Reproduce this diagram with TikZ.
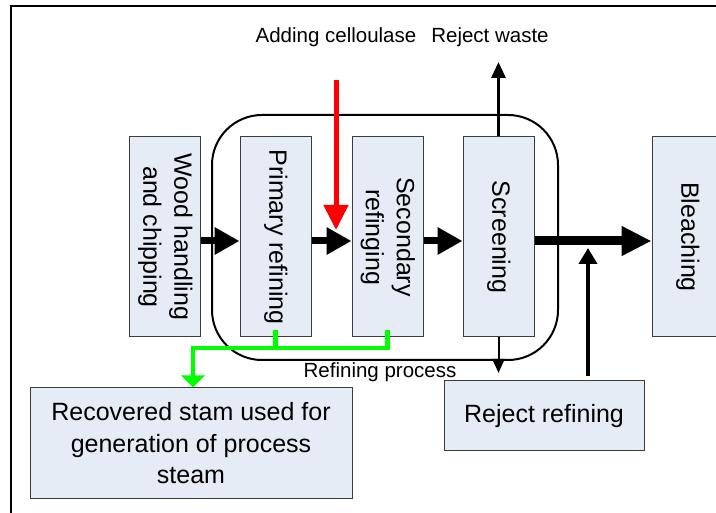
\documentclass[tikz,border=0pt]{standalone}
\usepackage{fontspec}
\setmainfont{Liberation Sans}
\usepackage{graphicx}
\usetikzlibrary{positioning,arrows.meta}
\definecolor{boxfill}{RGB}{230,236,246}
\definecolor{boxline}{RGB}{60,60,60}
\tikzset{
  flowarrow/.style={-{Triangle[length=25pt,width=26pt]}, line width=7pt},
  mainarrow/.style={-{Triangle[length=30pt,width=28pt]}, line width=9pt},
  thinarrow/.style={-{Triangle[length=14pt,width=12pt]}, line width=2pt},
  uparrow/.style={-{Triangle[length=16pt,width=18pt]}, line width=4pt},
  wastearrow/.style={-{Triangle[length=16pt,width=14pt]}, line width=3pt},
  enzarrow/.style={-{Triangle[length=25pt,width=24pt]}, red, line width=5pt},
  steamline/.style={-{Triangle[length=12pt,width=23pt]}, green, line width=4.5pt},
  procbox/.style={draw=boxline, fill=boxfill, line width=1pt, minimum width=71pt, minimum height=200pt, inner sep=0pt, align=center, font=\fontsize{25}{31}\selectfont},
  outbox/.style={draw=boxline, fill=boxfill, line width=1pt, inner sep=0pt, align=center, font=\fontsize{25}{31.5}\selectfont},
  smalltext/.style={font=\fontsize{20.5}{24}\selectfont, inner sep=0pt}
}
\newcommand{\vtext}[1]{\rotatebox{-90}{\begin{tabular}{@{}c@{}}#1\end{tabular}}}
\begin{document}
\begin{tikzpicture}[x=1pt, y=-1pt, >=Triangle]
      \useasboundingbox (0,0) rectangle (716,513);
      % frame
      \draw[line width=2.5pt] (11,530) -- (11,6) -- (730,6);
      % refining process
      \node[draw, line width=2pt, rounded corners=50pt, minimum width=346pt, minimum height=245pt] (refproc) at (385,237.5) {};
      \node[smalltext] (refname) at (380,372) {Refining process};
      \node[procbox] (wood) at (165,237) {\vtext{Wood handling\\and chipping}};
      \node[procbox] (prim) at (275.5,237) {\vtext{Primary refining}};
      \node[procbox] (sec) at (387.5,237) {\vtext{Secondary\\refinging}};
      \node[procbox] (scr) at (498.5,237) {\vtext{Screening}};
      \node[procbox] (bleach) at (687.5,237) {\vtext{Bleaching}};
      \node[outbox, minimum width=322pt, minimum height=111pt] (recov) at (191,443.5) {Recovered stam used for\\generation of process\\steam};
      \node[outbox, minimum width=200pt, minimum height=70pt] (rejref) at (544,416) {Reject refining};
      \node[smalltext] (cellu) at (336,37) {Adding celloulase};
      \node[smalltext] (waste) at (490,37) {Reject waste};
      \coordinate (enztop) at (336,80);
      \coordinate (enztip) at (336,230);
      \coordinate (wastetip) at (498.5,62);
      \coordinate (rejtip) at (498.5,373);
      \coordinate (uptip) at (588,248);
      \coordinate (gleft) at (193,348);
      % main line
      \draw[flowarrow] ([yshift=-4pt]wood.east) -- ([yshift=-4pt]prim.west);
      \draw[flowarrow] ([yshift=-4pt]prim.east) -- ([yshift=-4pt]sec.west);
      \draw[flowarrow] ([yshift=-4pt]sec.east) -- ([yshift=-4pt]scr.west);
      \draw[mainarrow] ([yshift=-4pt]scr.east) -- ([yshift=-4pt]bleach.west);
      \draw[enzarrow] (enztop) -- (enztip);
      \draw[wastearrow] (scr.north) -- (wastetip);
      \draw[thinarrow] (scr.south) -- (rejtip);
      \draw[uparrow, shorten <=4pt] (rejref.north -| uptip) -- (uptip);
      % steam
      \draw[steamline] ([yshift=7pt]sec.south) |- (gleft) -- (recov.north -| gleft);
      \draw[green, line width=4.5pt] ([yshift=7pt]prim.south) -- (prim.south |- gleft);
    \end{tikzpicture}
\end{document}
